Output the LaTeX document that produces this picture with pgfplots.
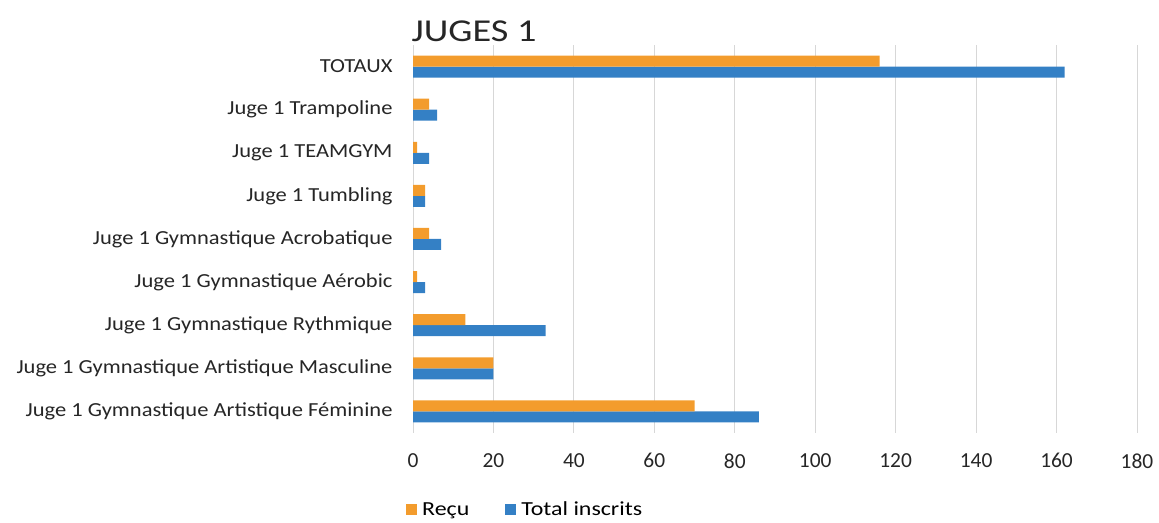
\documentclass[border=0pt]{standalone}
\usepackage{pgfplots}
\pgfplotsset{compat=1.18}
\usepackage{fontspec}
\setmainfont{Carlito}
\newfontfamily\wide[FakeStretch=1.13]{Carlito}
\newfontfamily\widet[FakeStretch=1.2]{Carlito}
\definecolor{recu}{RGB}{243,156,45}
\definecolor{total}{RGB}{52,128,197}
\definecolor{gridc}{RGB}{215,215,215}
\begin{document}
\begin{tikzpicture}
\path[use as bounding box] (0,0) rectangle (1159bp,523bp);
\begin{axis}[
  at={(413bp,90bp)}, anchor=south west,
  scale only axis, width=724bp, height=388bp,
  xmin=0, xmax=180, ymin=-0.5, ymax=8.5,
  xtick={0,20,...,180},
  ytick={0,...,8},
  yticklabels={Juge 1 Gymnastique Artistique Féminine,Juge 1 Gymnastique Artistique Masculine,Juge 1 Gymnastique Rythmique,Juge 1 Gymnastique Aérobic,Juge 1 Gymnastique Acrobatique,Juge 1 Tumbling,Juge 1 TEAMGYM,Juge 1 Trampoline,TOTAUX},
  axis line style={draw=none},
  major tick length=0pt,
  xmajorgrids, grid style={gridc, line width=0.8bp},
  /pgf/number format/assume math mode=true,
  yticklabel style={font=\wide\fontsize{20}{22}\selectfont, color=black!85, anchor=east, xshift=-17bp},
  xticklabel style={font=\fontsize{21.5}{23}\selectfont, color=black!85, yshift=-17bp},
  xbar, bar width=11bp,
  legend style={at={(0.155,-0.198)}, anchor=center, legend columns=2, draw=none, font=\widet\fontsize{20}{22}\selectfont, column sep=3bp, inner xsep=0pt,
    /tikz/every even column/.append style={column sep=34bp}},
  legend image code/.code={\fill[#1] (0bp,-5.5bp) rectangle (11bp,5.5bp);},
  reverse legend,
]
\addplot[fill=total, draw=none, bar shift=-5.5bp] coordinates {
(86,0) (20,1) (33,2) (3,3) (7,4) (3,5) (4,6) (6,7) (162,8)};
\addlegendentry{Total inscrits}
\addplot[fill=recu, draw=none, bar shift=5.5bp] coordinates {
(70,0) (20,1) (13,2) (1,3) (4,4) (3,5) (1,6) (4,7) (116,8)};
\addlegendentry{Reçu}
\end{axis}
\node[font=\widet\fontsize{32}{34}\selectfont, color=black!85] at (474bp,492bp) {JUGES 1};
\end{tikzpicture}
\end{document}
